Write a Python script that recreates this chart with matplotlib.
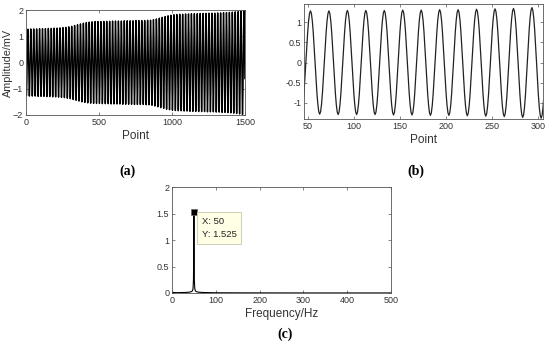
import numpy as np
import matplotlib
matplotlib.use("Agg")
import matplotlib.pyplot as plt

# ---------------- data ----------------
# per-cycle peak amplitude (mV) of the 50 Hz signal, 20 points per cycle, 75 cycles
cycle_amp = [1.27, 1.28, 1.28, 1.28, 1.29, 1.29, 1.29, 1.30, 1.30, 1.31,
             1.31, 1.32, 1.33, 1.34, 1.36,
             1.38, 1.41, 1.44, 1.47, 1.50, 1.52, 1.54, 1.55, 1.56, 1.56,
             1.56, 1.57, 1.57, 1.57, 1.58, 1.58, 1.58, 1.58, 1.59, 1.59,
             1.59, 1.59, 1.60, 1.60, 1.60, 1.60, 1.61, 1.61,
             1.63, 1.66, 1.69, 1.72, 1.75, 1.78, 1.80, 1.82,
             1.83, 1.84, 1.84, 1.85, 1.85, 1.86, 1.86, 1.86, 1.87, 1.87,
             1.87, 1.88, 1.88, 1.88, 1.89, 1.89, 1.90, 1.90, 1.91, 1.92,
             1.93, 1.94, 1.96, 1.98]
points_per_cycle = 20
phase_offset = 8

# spectrum (c)
freq = [0, 10, 20, 30, 40, 44, 46, 47, 48, 49, 49.5, 50, 50.5, 51, 52, 53, 54, 56, 60, 70, 100, 200, 300, 400, 500]
spec = [0.012, 0.006, 0.008, 0.010, 0.016, 0.025, 0.035, 0.05, 0.08, 0.25, 0.7, 1.525, 0.7, 0.25, 0.08, 0.05, 0.035, 0.025, 0.016, 0.010, 0.004, 0.002, 0.001, 0.001, 0.001]
tip_x, tip_y = 50, 1.525

# ---------------- signal ----------------
amp = np.repeat(cycle_amp, points_per_cycle)
n = np.arange(len(amp))
signal = amp * np.sin(2 * np.pi * (n - phase_offset) / points_per_cycle)

plt.rcParams['font.family'] = ['Liberation Sans', 'DejaVu Sans']
axcol = '#555555'
txtcol = '#333333'

fig = plt.figure(figsize=(5.5, 3.42), dpi=100)

def style(ax):
    for s in ax.spines.values():
        s.set_color(axcol)
        s.set_linewidth(0.6)
    ax.tick_params(direction='in', top=True, right=True, length=2.5, width=0.5,
                   colors=axcol, labelcolor=txtcol, labelsize=6.5, pad=2)

# (a)
axa = fig.add_axes([26/550, 1-115/342, (245-26)/550, (115-10)/342])
axa.plot(n, signal, color='black', lw=1.0)
axa.set_xlim(0, 1500)
axa.set_ylim(-2, 2)
axa.set_xticks([0, 500, 1000, 1500])
axa.set_yticks([-2, -1, 0, 1, 2])
style(axa)
axa.set_xlabel('Point', fontsize=8.5, color=txtcol, labelpad=2)
axa.set_ylabel('Amplitude/mV', fontsize=7.8, color=txtcol, labelpad=0)

# (b)
axb = fig.add_axes([304/550, 1-119/342, (543-304)/550, (119-4)/342])
axb.plot(n, signal, color='#222222', lw=0.9)
axb.set_xlim(46, 305)
axb.set_ylim(-1.4, 1.45)
axb.set_xticks([50, 100, 150, 200, 250, 300])
axb.set_yticks([-1, -0.5, 0, 0.5, 1])
axb.set_yticklabels(['-1', '-0.5', '0', '0.5', '1'])
style(axb)
axb.set_xlabel('Point', fontsize=8.5, color=txtcol, labelpad=2)

# (c)
axc = fig.add_axes([172/550, 1-293/342, (391-172)/550, (293-187)/342])
axc.plot(freq, spec, color='black', lw=0.8)
axc.set_xlim(0, 500)
axc.set_ylim(0, 2)
axc.set_xticks([0, 100, 200, 300, 400, 500])
axc.set_yticks([0, 0.5, 1, 1.5, 2])
axc.set_yticklabels(['0', '0.5', '1', '1.5', '2'])
style(axc)
axc.set_xlabel('Frequency/Hz', fontsize=8.5, color=txtcol, labelpad=2)
axc.plot([tip_x], [tip_y], marker='s', color='black', ms=5, mec='#666666', mew=0.5)
axc.annotate(f'X: {tip_x}\nY: {tip_y}', xy=(tip_x, tip_y), xytext=(5.5, -3.5),
             textcoords='offset points', ha='left', va='top', fontsize=6.8,
             color='#222222', linespacing=1.6,
             bbox=dict(boxstyle='square,pad=0.5', fc='#FFFFE6', ec='#C8C8B0', lw=0.6))

# panel labels
lab = dict(ha='center', va='center', fontsize=10, fontweight='bold',
           family=['Liberation Serif', 'DejaVu Serif'])
fig.text(128/550, 1-171/342, '(a)', **lab)
fig.text(416/550, 1-171/342, '(b)', **lab)
fig.text(285/550, 1-334/342, '(c)', **lab)

fig.savefig('out.png', dpi=100)
